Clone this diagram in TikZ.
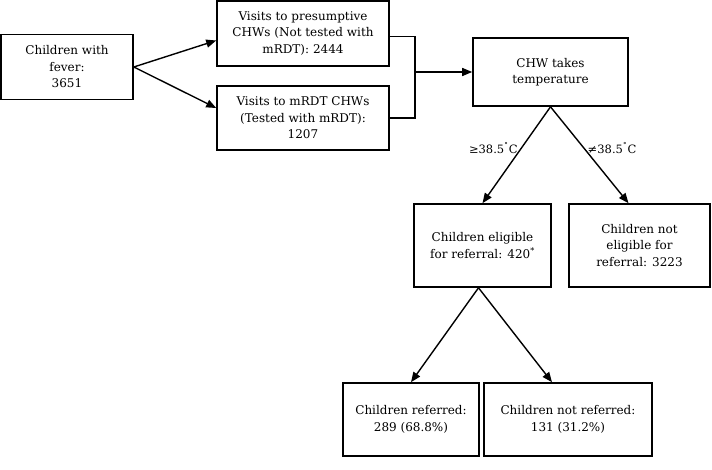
\documentclass[tikz,border=0pt]{standalone}
\usepackage{fontspec}
\setmainfont{DejaVu Serif}
\usepackage{tikz}
\usetikzlibrary{arrows.meta, positioning, calc}
\tikzset{
  box/.style={rectangle, draw=black, line width=1.6pt, align=center, inner sep=2pt, font=\fontsize{12}{16.5}\selectfont},
  line/.style={line width=1.4pt, color=black},
  arrow/.style={line width=1.4pt, -{Stealth[length=10pt, width=8pt, inset=0pt]}, color=black},
  cond/.style={font=\fontsize{11.5}{15}\selectfont, inner sep=3pt}
}
\begin{document}
\begin{tikzpicture}[x=1pt, y=-1pt]
    \useasboundingbox (0,0) rectangle (712,470);
    % Defining nodes
    \node[box, minimum width=132pt, minimum height=65pt] (fever) at (67,67) {Children with\\fever:\\3651};
    \node[box, minimum width=172pt, minimum height=65pt] (presump) at (303,33.5) {Visits to presumptive\\CHWs (Not tested with\\mRDT): 2444};
    \node[box, minimum width=172pt, minimum height=64pt] (mrdt) at (303,118) {Visits to mRDT CHWs\\(Tested with mRDT):\\1207};
    \node[box, minimum width=155pt, minimum height=68pt] (temp) at (550.5,72) {CHW takes\\temperature};
    \node[box, minimum width=137pt, minimum height=83pt] (eligible) at (482.5,245.5) {Children eligible\\for referral: 420\textsuperscript{*}};
    \node[box, minimum width=141pt, minimum height=83pt] (noteligible) at (639.5,245.5) {Children not\\eligible for\\referral: 3223};
    \node[box, minimum width=136pt, minimum height=73pt] (referred) at (411,419.5) {Children referred:\\289 (68.8\%)};
    \node[box, minimum width=168pt, minimum height=73pt] (notreferred) at (568,419.5) {Children not referred:\\131 (31.2\%)};
    \coordinate (join) at (415,72);

    % Drawing arrows
    \draw[arrow] (fever.east) -- ([yshift=-7pt]presump.west);
    \draw[arrow] (fever.east) -- ([yshift=10pt]mrdt.west);
    \draw[line] ([yshift=-3pt]presump.east) -| (join) |- (mrdt.east);
    \draw[arrow] (join) -- (temp.west);
    \draw[arrow] (temp.south) -- node[cond, pos=0.43, left] {≥38.5\textsuperscript{˚}C} (eligible.north);
    \draw[arrow] (temp.south) -- node[cond, pos=0.43, right] {≠38.5\textsuperscript{˚}C} ([xshift=-11pt]noteligible.north);
    \draw[arrow] ([xshift=-4pt]eligible.south) -- (referred.north);
    \draw[arrow] ([xshift=-4pt]eligible.south) -- ([xshift=-16pt]notreferred.north);
\end{tikzpicture}
\end{document}
